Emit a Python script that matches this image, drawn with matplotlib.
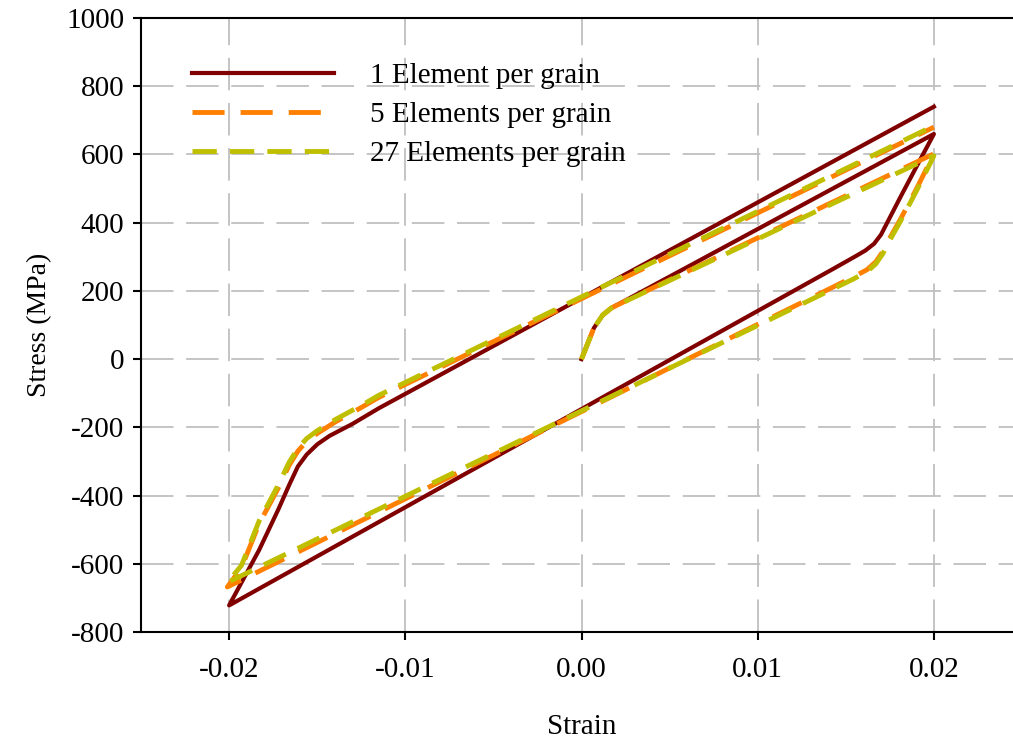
import matplotlib
matplotlib.use('Agg')
import matplotlib.pyplot as plt

plt.rcParams['font.family'] = ['Liberation Serif', 'DejaVu Serif']
plt.rcParams['axes.unicode_minus'] = False

# 1 element per grain
strain_1 = [0, 0.0007, 0.0012, 0.0017, 0.0026, 0.02, 0.0190, 0.0181, 0.0174,
            0.0170, 0.0166, 0.0161, 0.0155, 0.0143, -0.02, -0.0183, -0.0172,
            -0.0166, -0.0161, -0.0156, -0.0150, -0.0143, -0.0130, -0.0115, 0.02]
stress_1 = [0, 91, 129, 150, 175, 660, 563, 475, 405, 365, 338, 318, 300, 265,
            -722, -560, -440, -370, -315, -280, -250, -225, -190, -144, 740]

# 5 elements per grain
strain_5 = [0, 0.0007, 0.0012, 0.0017, 0.0026, 0.02, 0.0190, 0.0181, 0.0175,
            0.0171, 0.0167, 0.0162, 0.0154, -0.0201, -0.0193, -0.0183, -0.0172,
            -0.0166, -0.0161, -0.0156, -0.0150, -0.0140, -0.0125, -0.0115, 0.02]
stress_5 = [0, 91, 129, 150, 173, 602, 498, 410, 355, 315, 285, 262, 240,
            -668, -612, -483, -377, -312, -270, -241, -218, -185, -142, -112, 680]

# 27 elements per grain
strain_27 = [0, 0.0007, 0.0012, 0.0017, 0.0026, 0.02, 0.0190, 0.0181, 0.0175,
             0.0171, 0.0167, 0.0162, 0.0154, -0.0201, -0.0193, -0.0183, -0.0172,
             -0.0166, -0.0161, -0.0156, -0.0150, -0.0140, -0.0125, -0.0115, 0.02]
stress_27 = [0, 91, 129, 150, 172, 596, 492, 404, 349, 309, 279, 256, 234,
             -655, -605, -475, -368, -303, -262, -233, -210, -178, -136, -106, 684]

labels = ['1 Element per grain', '5 Elements per grain', '27 Elements per grain']
xticks = [-0.02, -0.01, 0.00, 0.01, 0.02]
yticks = list(range(-800, 1001, 200))

fig = plt.figure(figsize=(10.13, 7.44), dpi=100)
# axes runs past the right edge of the figure like the original
ax = fig.add_axes([141 / 1013, 112 / 744, 881 / 1013, 614 / 744])

ax.plot(strain_1, stress_1, color='#800000', lw=3, label=labels[0],
        solid_joinstyle='round', zorder=3)
ax.plot(strain_5, stress_5, color='#FF8000', lw=3.5, dashes=(6.6, 3.3),
        label=labels[1], zorder=4)
ax.plot(strain_27, stress_27, color='#BFBF00', lw=3.5, dashes=(5.0, 2.7),
        label=labels[2], zorder=5)

ax.set_xlim(-0.025, 0.025)
ax.set_ylim(-800, 1000)
ax.set_xticks(xticks)
ax.set_xticklabels(['%.2f' % t for t in xticks])
ax.set_yticks(yticks)

ax.grid(True, color='#BFBFBF', lw=1.3, dashes=(18, 7))
ax.set_axisbelow(True)

for side in ['left', 'bottom', 'top']:
    ax.spines[side].set_linewidth(1.5)
ax.spines['right'].set_visible(False)
ax.tick_params(direction='out', length=6, width=1.5, labelsize=21,
               top=False, right=False)
ax.tick_params(axis='x', pad=12)
ax.tick_params(axis='y', pad=6)

ax.set_xlabel('Strain', fontsize=21, labelpad=22)
ax.set_ylabel('Stress (MPa)', fontsize=20, labelpad=10)

ax.legend(loc='upper left', bbox_to_anchor=(0.028, 0.970), frameon=False,
          fontsize=21, handlelength=4.86, handletextpad=1.23, labelspacing=0.43)

fig.savefig('out.png', dpi=100)
